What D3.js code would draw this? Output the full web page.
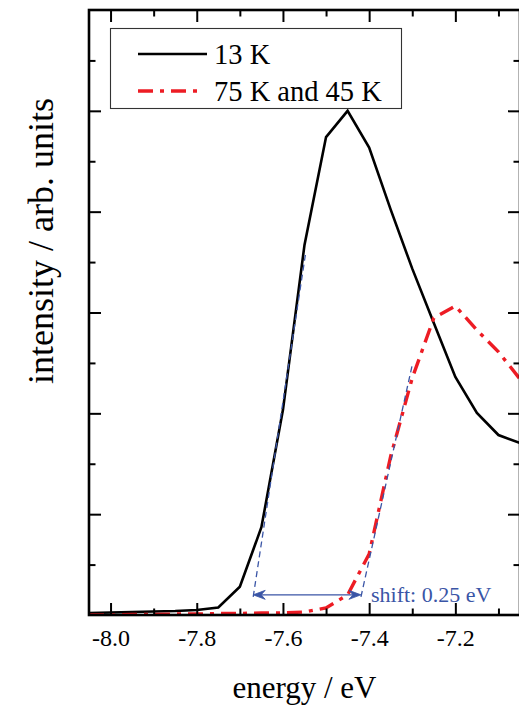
<!DOCTYPE html>
<html>
<head>
<meta charset="utf-8">
<script src="https://cdn.jsdelivr.net/npm/d3@7"></script>
<style>
  html, body { margin: 0; padding: 0; background: #fff; }
  svg { display: block; }
  text { font-family: "Liberation Serif", "Times New Roman", serif; }
</style>
</head>
<body>
<svg id="chart" width="519" height="709"></svg>
<script>
// ---- data ----
const energy = [-8.05, -8.00, -7.95, -7.90, -7.85, -7.80, -7.75, -7.70, -7.65, -7.60, -7.55,
                -7.50, -7.45, -7.40, -7.35, -7.30, -7.25, -7.20, -7.15, -7.10, -7.05];
const int13K = [0.004, 0.005, 0.006, 0.007, 0.008, 0.010, 0.015, 0.056, 0.174, 0.407, 0.734,
                0.948, 1.000, 0.927, 0.804, 0.687, 0.579, 0.472, 0.401, 0.357, 0.341];
const int75K45K = [0.000, 0.000, 0.001, 0.001, 0.002, 0.002, 0.003, 0.003, 0.004, 0.004, 0.006,
                   0.014, 0.040, 0.121, 0.315, 0.470, 0.589, 0.613, 0.565, 0.522, 0.468];
const seriesNames = ["13 K", "75 K and 45 K"];
// leading-edge fit lines (energy, intensity)
const edge13K = [[-7.669, 0.036], [-7.548, 0.714]];
const edge75K = [[-7.419, 0.036], [-7.300, 0.496]];
const shiftArrow = [[-7.669, 0.040], [-7.419, 0.040]];
const shiftLabel = "shift: 0.25 eV";
const xTicksMajor = [-8.0, -7.8, -7.6, -7.4, -7.2];
const xTicksMinor = [-7.9, -7.7, -7.5, -7.3, -7.1];
const yTicksMajor = [0.2, 0.4, 0.6, 0.8, 1.0];
const yTicksMinor = [0.1, 0.3, 0.5, 0.7, 0.9, 1.1];
const xTitle = "energy / eV";
const yTitle = "intensity / arb. units";

// ---- layout ----
const L = 89, R = 520, T = 10, B = 615;
const svg = d3.select("#chart");
const x = d3.scaleLinear().domain([-8.05, -7.05]).range([L, R]);
const y = d3.scaleLinear().domain([0, 1.2]).range([B, T]);
const RED = "#ed1c24", BLUE = "#3a55a6";
const noLabel = () => "";

const plot = svg.append("g");
svg.append("clipPath").attr("id", "clip")
  .append("rect").attr("x", L).attr("y", T).attr("width", R - L).attr("height", B - T);

const line = d3.line().x(d => x(d[0])).y(d => y(d[1]));
const data13 = energy.map((e, i) => [e, int13K[i]]);
const data75 = energy.map((e, i) => [e, int75K45K[i]]);

const curves = plot.append("g").attr("clip-path", "url(#clip)");
curves.append("path").datum(data13).attr("d", line)
  .attr("fill", "none").attr("stroke", "#000").attr("stroke-width", 2.6)
  .attr("stroke-linejoin", "miter");
curves.append("path").datum(data75).attr("d", line)
  .attr("fill", "none").attr("stroke", RED).attr("stroke-width", 3.4)
  .attr("stroke-dasharray", "15,7,4,7");

// edge fit lines
[edge13K, edge75K].forEach(seg => {
  curves.append("path").datum(seg).attr("d", line)
    .attr("fill", "none").attr("stroke", BLUE).attr("stroke-width", 1.3)
    .attr("stroke-dasharray", "6,4");
});

// shift arrow
const ax0 = x(shiftArrow[0][0]), ax1 = x(shiftArrow[1][0]), ay = y(shiftArrow[0][1]);
plot.append("line").attr("x1", ax0 + 2).attr("x2", ax1 - 2).attr("y1", ay).attr("y2", ay)
  .attr("stroke", BLUE).attr("stroke-width", 1.4);
function head(tipX, dir) {
  const hl = 12, hw = 4.5, notch = 8;
  return `M${tipX},${ay} L${tipX + dir * hl},${ay - hw} L${tipX + dir * notch},${ay} L${tipX + dir * hl},${ay + hw} Z`;
}
plot.append("path").attr("d", head(ax0, 1)).attr("fill", BLUE).attr("stroke", BLUE).attr("stroke-width", 0.8);
plot.append("path").attr("d", head(ax1, -1)).attr("fill", BLUE).attr("stroke", BLUE).attr("stroke-width", 0.8);
plot.append("text").attr("x", ax1 + 10).attr("y", ay + 7)
  .attr("fill", BLUE).attr("font-size", 22).text(shiftLabel);

// ---- axes ----
const axG = svg.append("g");
const majLen = 12, minLen = 6.5;
const xb = axG.append("g").attr("transform", `translate(0,${B})`);
xb.call(d3.axisBottom(x).tickValues(xTicksMajor).tickSize(-majLen)
  .tickFormat(d => d3.format(".1f")(d).replace("\u2212", "-")).tickPadding(14));
xb.append("g").call(d3.axisBottom(x).tickValues(xTicksMinor).tickSize(-minLen).tickFormat(noLabel));
const xt = axG.append("g").attr("transform", `translate(0,${T})`);
xt.call(d3.axisTop(x).tickValues(xTicksMajor).tickSize(-majLen).tickFormat(noLabel));
xt.append("g").call(d3.axisTop(x).tickValues(xTicksMinor).tickSize(-minLen).tickFormat(noLabel));
const yl = axG.append("g").attr("transform", `translate(${L},0)`);
yl.call(d3.axisLeft(y).tickValues(yTicksMajor).tickSize(-majLen).tickFormat(noLabel));
yl.append("g").call(d3.axisLeft(y).tickValues(yTicksMinor).tickSize(-minLen).tickFormat(noLabel));
const yr = axG.append("g").attr("transform", `translate(${R},0)`);
yr.call(d3.axisRight(y).tickValues(yTicksMajor).tickSize(-majLen).tickFormat(noLabel));
yr.append("g").call(d3.axisRight(y).tickValues(yTicksMinor).tickSize(-minLen).tickFormat(noLabel));

axG.selectAll(".domain").remove();
axG.selectAll(".tick line").attr("stroke", "#000").attr("stroke-width", 2);
xb.selectAll(".tick text").attr("font-size", 24).attr("fill", "#000")
  .attr("font-family", "Liberation Serif, Times New Roman, serif");

axG.append("rect").attr("x", L).attr("y", T).attr("width", R - L).attr("height", B - T)
  .attr("fill", "none").attr("stroke", "#000").attr("stroke-width", 2.6);

// titles
svg.append("text").attr("x", (L + R) / 2).attr("y", 698).attr("text-anchor", "middle")
  .attr("font-size", 31).attr("fill", "#000").text(xTitle);
svg.append("text").attr("transform", "translate(53,241) rotate(-90)").attr("text-anchor", "middle")
  .attr("font-size", 36).attr("fill", "#000").text(yTitle);

// ---- legend ----
const lg = svg.append("g");
lg.append("rect").attr("x", 110.5).attr("y", 28.5).attr("width", 291).attr("height", 80)
  .attr("fill", "#fff").attr("stroke", "#333").attr("stroke-width", 1.1);
const legendRows = [
  { name: seriesNames[0], color: "#000", dash: null, w: 2.6, x2: 207, yy: 54 },
  { name: seriesNames[1], color: RED, dash: "15,7,4,7", w: 3.4, x2: 199, yy: 91 }
];
legendRows.forEach(r => {
  lg.append("line").attr("x1", 138).attr("x2", r.x2).attr("y1", r.yy).attr("y2", r.yy)
    .attr("stroke", r.color).attr("stroke-width", r.w).attr("stroke-dasharray", r.dash);
  lg.append("text").attr("x", 214).attr("y", r.yy + 9.5).attr("font-size", 28.5)
    .attr("fill", "#000").text(r.name);
});
</script>
</body>
</html>
